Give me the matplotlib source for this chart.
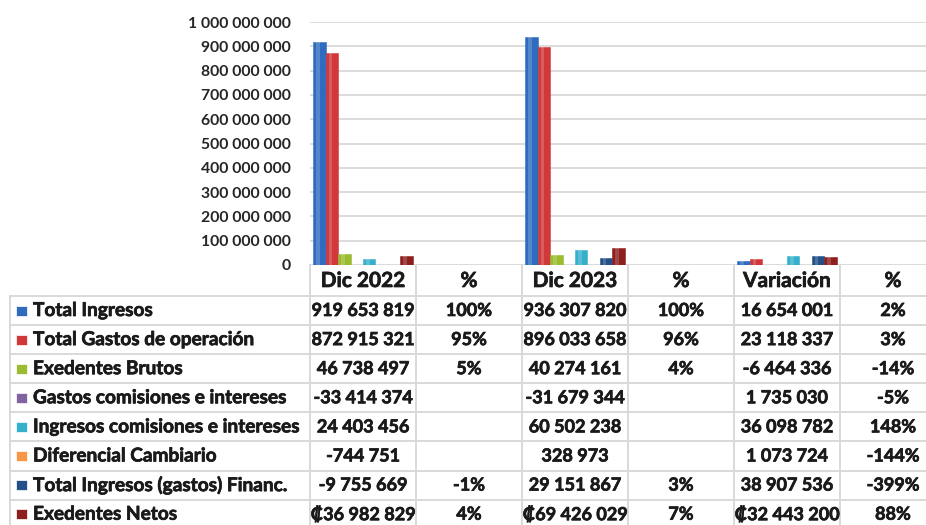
import matplotlib
matplotlib.use("Agg")
import matplotlib.pyplot as plt
import matplotlib.transforms as mtransforms
import matplotlib.patheffects as pe
from matplotlib.patches import Rectangle
from matplotlib.ticker import FuncFormatter
import numpy as np

plt.rcParams['font.family'] = ['Lato', 'DejaVu Sans']

columns = ["Dic 2022", "%", "Dic 2023", "%", "Variación", "%"]
is_pct = [False, True, False, True, False, True]

series = [
    "Total Ingresos",
    "Total Gastos de operación",
    "Exedentes Brutos",
    "Gastos comisiones e intereses",
    "Ingresos comisiones e intereses",
    "Diferencial Cambiario",
    "Total Ingresos (gastos) Financ.",
    "Exedentes Netos",
]

total_ingresos = [919653819, 1.00, 936307820, 1.00, 16654001, 0.02]
total_gastos = [872915321, 0.95, 896033658, 0.96, 23118337, 0.03]
exed_brutos = [46738497, 0.05, 40274161, 0.04, -6464336, -0.14]
gastos_com = [-33414374, None, -31679344, None, 1735030, -0.05]
ingresos_com = [24403456, None, 60502238, None, 36098782, 1.48]
dif_cambiario = [-744751, None, 328973, None, 1073724, -1.44]
total_financ = [-9755669, -0.01, 29151867, 0.03, 38907536, -3.99]
exed_netos = [36982829, 0.04, 69426029, 0.07, 32443200, 0.88]

values = [total_ingresos, total_gastos, exed_brutos, gastos_com,
          ingresos_com, dif_cambiario, total_financ, exed_netos]
currency_row = "Exedentes Netos"

colors = ["#2F6CBF", "#D0383A", "#9BBB30", "#8064A2",
          "#35B0CC", "#F79646", "#24508A", "#8E1F1F"]

W, H = 926, 525
fig = plt.figure(figsize=(W / 100, H / 100), dpi=100)

def fy(px):
    return 1 - px / H

ax_left, ax_right = 310, 946
ax_top, ax_bot = 22, 265
ax = fig.add_axes([ax_left / W, fy(ax_bot), (ax_right - ax_left) / W, (ax_bot - ax_top) / H])

n = len(series)
x = np.arange(len(columns))
bw = 0.117
for i, (name, vals) in enumerate(zip(series, values)):
    h = [v if v is not None else 0 for v in vals]
    pos = x - bw * (n - 1) / 2 + i * bw
    ax.bar(pos, h, width=bw, color=colors[i], edgecolor=colors[i], linewidth=0.4)
    # light stripe for the 3d look
    ax.bar(pos - bw * 0.12, h, width=bw * 0.3, color="white", alpha=0.18, linewidth=0)

ax.set_xlim(-0.5, len(columns) - 0.5)
ax.set_ylim(0, 1e9)
ax.set_yticks(np.arange(0, 1.0e9 + 1, 1e8))
ax.yaxis.set_major_formatter(FuncFormatter(lambda v, p: f"{v:,.0f}".replace(",", " ")))
ax.tick_params(axis='y', length=0, pad=14, labelsize=11.3, labelcolor="#262626")
for lab in ax.get_yticklabels():
    lab.set_fontweight("bold")
ax.set_xticks([])
ax.grid(axis='y', color="#D9D9D9", linewidth=1.3)
ax.set_axisbelow(True)
for s in ax.spines.values():
    s.set_visible(False)

# data table below the plot
line_c = "#D9D9D9"
tr = mtransforms.blended_transform_factory(ax.transData, fig.transFigure)
row0 = 310.5
step = 29.1
header_y = 281
bottom_px = 540
heavy = [pe.withStroke(linewidth=0.5, foreground="#1A1A1A")]

for k in range(len(columns) + 1):
    fig.add_artist(plt.Line2D([k - 0.5, k - 0.5], [fy(ax_bot), fy(bottom_px)],
                              transform=tr, color=line_c, lw=1.4))
fig.add_artist(plt.Line2D([10 / W, 10 / W], [fy(row0 - step / 2), fy(bottom_px)],
                          transform=fig.transFigure, color=line_c, lw=1.4))
for r in range(n + 1):
    yy = fy(row0 - step / 2 + r * step)
    fig.add_artist(plt.Line2D([10 / W, 1.05], [yy, yy], transform=fig.transFigure,
                              color=line_c, lw=1.4))

for j, col in enumerate(columns):
    fig.text(j, fy(header_y), col, transform=tr, ha="center", va="center",
             fontsize=15, fontweight="bold", color="#1A1A1A", path_effects=heavy)

for i, (name, vals) in enumerate(zip(series, values)):
    yy = fy(row0 + i * step)
    fig.add_artist(Rectangle((16 / W, yy - 5 / H), 11 / W, 10 / H,
                             transform=fig.transFigure, facecolor=colors[i],
                             edgecolor="white", lw=0.5))
    fig.text(33 / W, yy, name, ha="left", va="center", fontsize=13.7,
             fontweight="bold", color="#1A1A1A", path_effects=heavy)
    for j, v in enumerate(vals):
        if v is None:
            continue
        if is_pct[j]:
            s = f"{round(v * 100):.0f}%"
        else:
            s = f"{v:,.0f}".replace(",", " ")
            if name == currency_row:
                s = "\u20a1" + s
        fig.text(j, yy, s, transform=tr, ha="center", va="center",
                 fontsize=13, fontweight="bold", color="#1A1A1A", path_effects=heavy)

fig.savefig("out.png", dpi=100)
